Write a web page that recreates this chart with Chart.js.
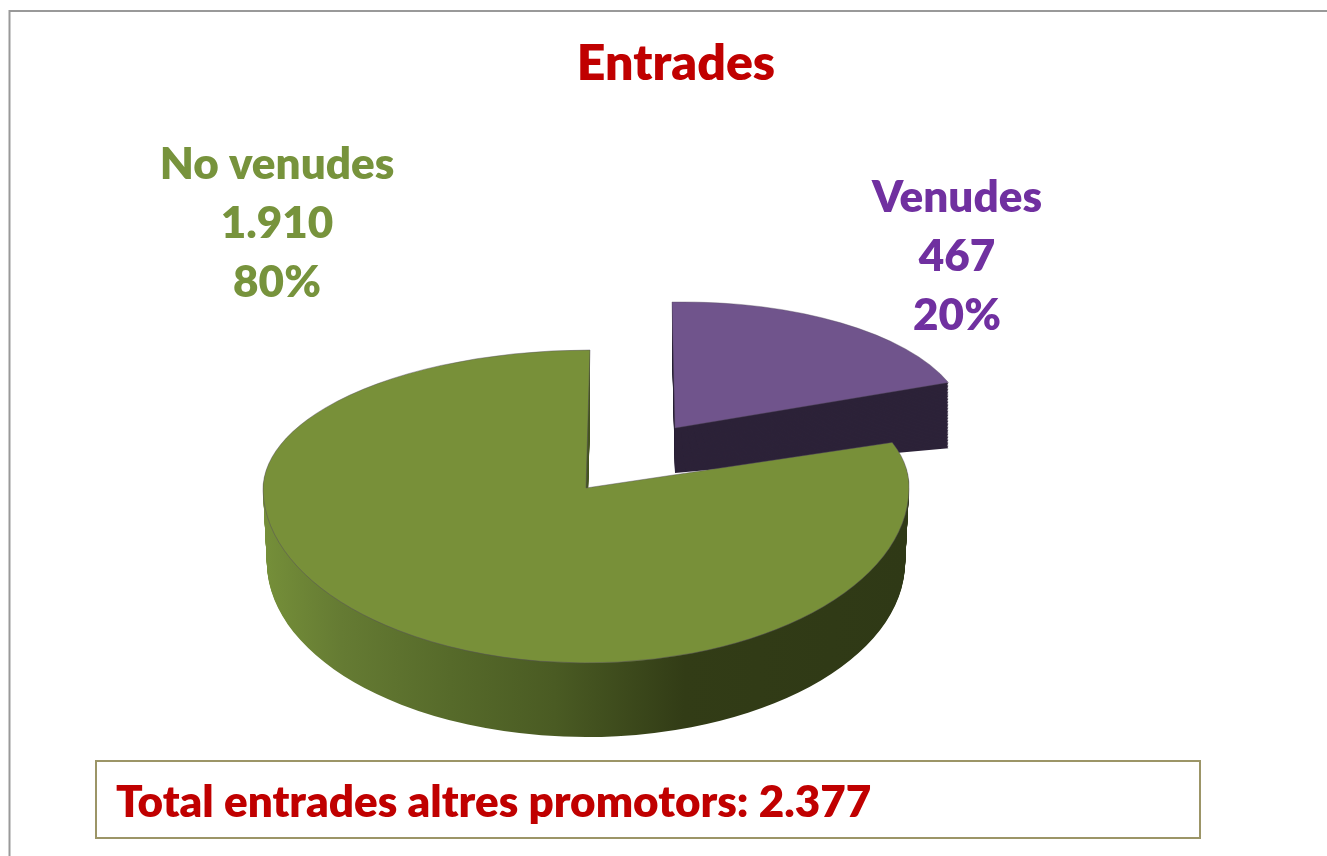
<!DOCTYPE html>
<html>
<head>
<meta charset="utf-8">
<style>
html,body{margin:0;padding:0;background:#fff;overflow:hidden}
canvas{display:block}
</style>
<script src="https://cdn.jsdelivr.net/npm/chart.js@4"></script>
</head>
<body>
<canvas id="c" width="1327" height="856"></canvas>
<script>
const chartTitle = 'Entrades';
const categories = ['Venudes', 'No venudes'];
const values = [467, 1910];
const valueLabels = ['467', '1.910'];
const percentLabels = ['20%', '80%'];
const totalLabel = 'Total entrades altres promotors: 2.377';
const topColors = ['#70548c', '#789039'];
const textColors = ['#7030a0', '#77933c'];
const purpleSide = '#2c2238';
const greenSideStops = [[262,'#758f39'],[340,'#657b33'],[450,'#566a2a'],[554,'#4a5b23'],[685,'#323c16'],[908,'#2f3916']];
const labelAnchors = [[957,198],[277,165]];

const FONT = 'Lato, "Open Sans", sans-serif';
const RED = '#c00000';
const CX = 586, CY = 488, R = 323;
const K_UP = 138 / R, K_DOWN = 175 / R, DEPTH = 74;
const EDGE = 'rgba(85,75,95,0.6)';

function withOptions(el, extra) {
  const c = Object.create(el);
  c.options = Object.assign({}, el.options, extra);
  return c;
}
const drawArc = (el, ctx, extra) => {
  Chart.ArcElement.prototype.draw.call(withOptions(el, extra), ctx);
};
function halves(ctx, el, dy, extra) {
  [[0, CY + dy, K_UP, -4 / R], [CY + dy, 856 - CY - dy, K_DOWN, 0]].forEach(([y, h, k, shear]) => {
    ctx.save();
    ctx.beginPath();
    ctx.rect(0, y, 1327, h);
    ctx.clip();
    ctx.translate(CX, CY + dy);
    ctx.scale(1 - 0.012 * dy / DEPTH, k);
    ctx.transform(1, 0, shear, 1, 0, 0);
    ctx.translate(-el.x, -el.y);
    drawArc(el, ctx, extra);
    ctx.restore();
  });
}
function purple(ctx, el, t, extra) {
  ctx.save();
  ctx.translate(675, 428 + t);
  ctx.transform(1, 0.076 * t / 45, 0, 1, 0, 0);
  ctx.transform(0.90, -0.013, 0.0093, 0.39, 0, 0);
  ctx.translate(-el.x, -el.y);
  drawArc(el, ctx, extra);
  ctx.restore();
}

const pie3d = {
  id: 'pie3d',
  beforeDatasetsDraw(chart) {
    const ctx = chart.ctx;
    const [pEl, gEl] = chart.getDatasetMeta(0).data;
    for (let t = 45; t >= 1; t--) purple(ctx, pEl, t, {backgroundColor: purpleSide});
    purple(ctx, pEl, 0, {borderWidth: 1, borderColor: EDGE});
    const off = CX - gEl.x;
    const grad = ctx.createLinearGradient(262 - off, 0, 908 - off, 0);
    greenSideStops.forEach(([x, c]) => grad.addColorStop((x - 262) / 646, c));
    for (let d = DEPTH; d >= 1; d--) halves(ctx, gEl, d, {backgroundColor: grad});
    halves(ctx, gEl, 0, {borderWidth: 1, borderColor: EDGE});
    return false;
  },
  afterDraw(chart) {
    const ctx = chart.ctx;
    ctx.save();
    ctx.strokeStyle = '#999999';
    ctx.lineWidth = 2;
    ctx.beginPath();
    ctx.moveTo(9.5, 856);
    ctx.lineTo(9.5, 11);
    ctx.lineTo(1327, 11);
    ctx.stroke();
    ctx.textAlign = 'center';
    ctx.textBaseline = 'middle';
    ctx.font = '800 44px ' + FONT;
    categories.forEach((name, i) => {
      const [x, y] = labelAnchors[i];
      ctx.fillStyle = textColors[i];
      ctx.fillText(name, x, y);
      ctx.fillText(valueLabels[i], x, y + 59);
      ctx.fillText(percentLabels[i], x, y + 118);
    });
    ctx.strokeStyle = '#9c9567';
    ctx.lineWidth = 2;
    ctx.strokeRect(96, 761, 1104, 77);
    ctx.textAlign = 'left';
    ctx.fillStyle = RED;
    ctx.font = '800 44px ' + FONT;
    ctx.fillText(totalLabel, 116, 803);
    ctx.restore();
  }
};

new Chart(document.getElementById('c'), {
  type: 'pie',
  data: {
    labels: categories,
    datasets: [{data: values, backgroundColor: topColors, borderWidth: 0}]
  },
  options: {
    responsive: false,
    animation: false,
    radius: R,
    rotation: 0,
    layout: {padding: {left: 25, right: 0, top: 0, bottom: 0}},
    plugins: {
      legend: {display: false},
      tooltip: {enabled: false},
      title: {
        display: true,
        text: chartTitle,
        color: RED,
        font: {family: FONT, size: 50, weight: 800, lineHeight: 1.2},
        padding: {top: 34, bottom: 26}
      }
    }
  },
  plugins: [pie3d]
});
</script>
</body>
</html>
